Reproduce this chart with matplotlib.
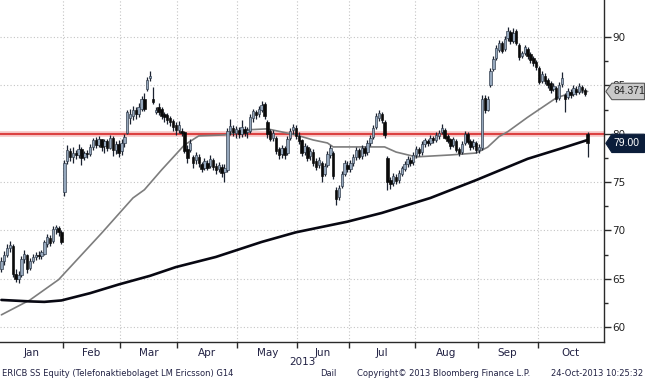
import numpy as np
import matplotlib
matplotlib.use("Agg")
import matplotlib.pyplot as plt
from matplotlib.patches import Polygon
import matplotlib.transforms as mtrans

plt.rcParams['font.family'] = ['DejaVu Sans']

# ---------------- data ----------------
months = ['Jan', 'Feb', 'Mar', 'Apr', 'May', 'Jun', 'Jul', 'Aug', 'Sep', 'Oct']
month_days = [22, 20, 20, 21, 21, 18, 23, 22, 21, 18]

opens = [
    66.0, 66.8, 67.5, 68.2, 68.4, 65.5, 65.0, 65.4, 67.0, 67.4, 66.1, 66.8, 67.2, 67.5, 67.3, 67.6, 68.6, 69.2, 68.9, 70.1, 70.2, 69.8,
    74.0, 77.2, 78.2, 77.6, 78.0, 77.8, 78.4, 77.6, 78.0, 77.9, 78.6, 79.3, 78.8, 79.4, 78.7, 79.2, 78.5, 79.6, 78.3, 78.9,
    78.2, 79.0, 80.1, 81.6, 81.8, 82.4, 82.0, 82.6, 83.6, 84.6, 85.8, 83.6, 82.2, 82.8, 82.6, 82.0, 81.9, 81.6, 81.3, 80.9,
    80.4, 80.3, 80.2, 78.4, 78.3, 77.6, 77.3, 77.6, 76.9, 76.5, 77.0, 76.7, 77.3, 76.7, 76.3, 76.6, 76.0, 76.2, 80.3, 80.6, 80.1,
    80.4, 80.0, 80.5, 80.2, 80.3, 81.6, 82.2, 82.0, 82.5, 83.1, 81.2, 80.3, 79.6, 79.6, 78.4, 77.9, 78.5, 78.0, 79.6, 80.4, 80.6,
    79.8, 79.3, 78.1, 78.6, 77.7, 78.1, 77.2, 76.8, 77.0, 75.8, 76.8, 77.8, 78.0, 74.2, 73.4, 74.6, 75.8, 76.8,
    76.3, 77.0, 77.6, 78.3, 77.7, 78.5, 78.1, 79.0, 79.7, 80.7, 81.6, 82.0, 81.2, 77.5, 75.2, 74.9, 75.5, 75.2, 75.8, 76.3, 76.9, 77.3, 77.1,
    77.8, 78.4, 78.1, 78.9, 79.2, 79.0, 79.6, 79.3, 79.8, 80.2, 80.4, 79.8, 79.4, 78.8, 79.2, 78.4, 78.1, 79.0, 80.0, 79.2, 78.7, 79.0,
    78.3, 78.5, 83.7, 82.5, 85.0, 86.7, 87.8, 88.7, 89.4, 88.8, 89.9, 90.5, 89.6, 90.6, 89.2, 88.0, 88.3, 88.8, 88.2, 87.8, 87.4,
    86.8, 85.4, 86.0, 85.6, 85.2, 84.6, 84.7, 83.7, 85.1, 84.0, 83.8, 84.3, 84.1, 84.6, 84.3, 84.8, 84.5, 80.0,
]
highs = [
    67.2, 67.9, 68.6, 68.9, 68.6, 66.0, 65.8, 67.3, 68.0, 67.6, 67.1, 67.6, 67.8, 67.9, 68.0, 69.0, 69.6, 69.5, 70.5, 70.6, 70.5, 70.0,
    77.3, 78.8, 78.5, 78.6, 78.3, 78.9, 78.6, 78.2, 78.3, 78.9, 79.6, 79.7, 79.8, 79.5, 79.5, 79.4, 79.9, 79.8, 79.2, 79.3,
    79.5, 80.0, 82.4, 82.6, 82.9, 82.8, 83.2, 83.9, 84.2, 85.9, 86.5, 84.8, 82.8, 83.2, 82.8, 82.2, 82.1, 81.8, 81.5, 81.2,
    81.3, 80.6, 80.3, 78.8, 79.4, 77.8, 78.1, 77.9, 77.1, 77.5, 77.3, 77.8, 77.5, 77.0, 77.1, 76.9, 76.9, 80.6, 81.5, 80.9, 80.8,
    80.7, 81.4, 80.8, 80.7, 82.0, 82.6, 82.5, 82.9, 83.4, 83.3, 81.4, 80.5, 80.4, 79.8, 78.6, 78.8, 78.7, 79.8, 80.6, 81.0, 80.9,
    80.2, 79.5, 79.0, 78.8, 78.5, 78.4, 77.5, 77.6, 77.2, 77.0, 78.2, 78.8, 78.2, 74.5, 74.7, 76.1, 77.3, 77.2,
    77.3, 77.9, 78.6, 78.5, 78.8, 78.7, 79.3, 79.9, 80.9, 82.1, 82.4, 82.2, 81.4, 77.7, 75.5, 75.9, 75.8, 76.2, 76.7, 77.2, 77.7, 77.6, 78.1,
    78.7, 78.6, 79.2, 79.6, 79.5, 79.9, 79.8, 80.2, 80.4, 81.0, 80.6, 80.0, 79.6, 79.7, 79.4, 78.6, 79.2, 80.3, 80.2, 79.4, 79.4, 79.2,
    78.9, 84.0, 84.0, 83.9, 86.8, 88.0, 89.2, 89.7, 89.6, 90.1, 91.0, 90.7, 90.9, 90.8, 89.4, 88.6, 89.2, 89.0, 88.4, 88.0, 87.6,
    87.0, 86.5, 86.3, 85.8, 85.4, 85.2, 84.9, 85.3, 86.4, 84.2, 84.7, 84.6, 85.0, 84.9, 85.2, 85.0, 84.7, 80.2,
]
lows = [
    65.7, 66.4, 67.2, 67.8, 65.2, 64.7, 64.6, 65.2, 66.6, 65.6, 65.9, 66.6, 66.9, 67.0, 67.0, 67.5, 68.3, 68.4, 68.7, 69.6, 69.4, 68.6,
    73.6, 76.9, 77.2, 77.0, 77.4, 77.5, 76.8, 77.3, 77.5, 77.7, 78.3, 78.5, 78.6, 78.2, 78.0, 78.2, 78.4, 77.7, 77.9, 77.6,
    77.8, 78.6, 80.0, 81.0, 81.4, 81.5, 81.7, 82.3, 82.3, 84.4, 85.4, 83.1, 82.0, 81.9, 81.5, 81.2, 81.0, 80.8, 80.3, 79.9,
    80.1, 79.8, 78.0, 77.0, 78.1, 76.5, 76.9, 76.6, 76.0, 76.2, 76.2, 76.4, 76.2, 75.8, 76.0, 75.5, 75.0, 76.0, 79.9, 79.8, 79.6,
    79.6, 79.7, 79.8, 79.6, 80.1, 81.2, 81.5, 81.7, 82.2, 81.5, 79.6, 79.2, 79.2, 77.9, 77.4, 77.5, 77.4, 77.8, 79.3, 80.0, 79.5,
    78.9, 77.7, 77.8, 77.2, 77.3, 76.7, 76.2, 76.5, 75.0, 75.6, 76.6, 77.5, 75.3, 72.6, 73.1, 74.4, 75.6, 76.0,
    76.0, 76.7, 77.3, 77.4, 77.4, 77.7, 77.8, 78.7, 79.5, 80.5, 81.3, 81.1, 79.6, 74.2, 74.3, 74.6, 74.8, 74.9, 75.6, 76.1, 76.6, 76.7, 76.8,
    77.5, 77.7, 77.8, 78.6, 78.7, 78.8, 79.0, 79.1, 79.5, 80.0, 79.4, 79.0, 78.4, 78.6, 78.1, 77.7, 77.9, 78.8, 78.9, 78.3, 78.4, 78.0,
    78.0, 78.3, 82.1, 82.3, 84.8, 86.5, 87.6, 88.4, 88.3, 88.6, 89.6, 89.3, 89.4, 89.2, 87.6, 87.8, 88.1, 87.7, 87.3, 87.0, 86.6,
    85.1, 85.2, 85.1, 84.7, 84.2, 84.4, 83.3, 83.5, 84.8, 82.2, 83.6, 83.7, 83.9, 84.0, 84.1, 84.2, 83.9, 77.6,
]
closes = [
    66.8, 67.5, 68.2, 68.5, 65.5, 65.0, 65.4, 67.0, 67.6, 66.0, 66.8, 67.2, 67.5, 67.3, 67.8, 68.8, 69.3, 68.7, 70.1, 70.3, 69.8, 68.8,
    77.0, 78.3, 77.6, 78.0, 77.8, 78.4, 77.5, 78.0, 77.9, 78.6, 79.3, 78.8, 79.5, 78.6, 79.2, 78.5, 79.6, 78.3, 78.9, 78.0,
    79.0, 79.7, 82.2, 82.0, 82.5, 82.0, 82.8, 83.6, 82.6, 85.6, 86.0, 83.3, 82.5, 82.2, 81.8, 81.7, 81.4, 81.2, 80.7, 80.4,
    80.9, 80.1, 78.2, 77.5, 79.0, 77.0, 77.8, 77.0, 76.3, 77.2, 76.5, 77.4, 76.6, 76.2, 76.8, 75.9, 76.4, 80.3, 80.8, 80.2, 80.5,
    80.0, 80.7, 80.1, 80.4, 81.7, 82.3, 81.9, 82.6, 83.0, 81.8, 80.0, 79.5, 80.1, 78.2, 77.8, 78.5, 77.8, 79.5, 80.3, 80.7, 79.8,
    79.2, 78.0, 78.7, 77.5, 78.2, 77.0, 76.6, 77.3, 75.6, 76.7, 77.9, 78.5, 75.6, 73.2, 74.4, 75.8, 77.0, 76.3,
    77.0, 77.6, 78.3, 77.6, 78.5, 78.0, 79.0, 79.6, 80.6, 81.8, 82.1, 81.4, 79.9, 75.0, 74.8, 75.6, 75.1, 75.9, 76.4, 76.9, 77.4, 77.0, 77.8,
    78.4, 78.0, 78.9, 79.3, 79.0, 79.6, 79.3, 79.9, 80.1, 80.6, 79.6, 79.2, 78.7, 79.4, 78.3, 78.0, 78.9, 80.0, 79.1, 78.6, 79.1, 78.3,
    78.6, 83.6, 82.4, 83.6, 86.5, 87.7, 88.9, 89.4, 88.6, 89.8, 90.6, 89.6, 90.4, 89.4, 87.9, 88.3, 89.0, 88.0, 87.6, 87.3, 86.9,
    85.3, 86.2, 85.4, 85.0, 84.5, 84.9, 83.6, 85.0, 85.8, 83.6, 84.4, 84.0, 84.7, 84.3, 84.9, 84.5, 84.1, 79.0,
]

# moving averages (trading-day index, value)
ma50_idx = [0, 10, 20, 35, 46, 50, 56, 64, 69, 78, 86, 93, 103, 109, 114, 116, 126, 134, 138, 145, 157, 166, 170, 174, 177, 184, 194, 200, 205]
ma50_val = [61.26, 62.8, 64.9, 69.7, 73.35, 74.2, 76.25, 78.83, 79.77, 79.87, 80.4, 80.5, 79.87, 79.35, 79.04, 78.63, 78.63, 78.63, 78.1,
            77.6, 77.8, 78.0, 78.6, 79.7, 80.2, 81.7, 83.7, 84.3, 84.37]
ma200_idx = [0, 10, 15, 21, 31, 41, 52, 61, 75, 91, 103, 121, 133, 150, 166, 184, 196, 205]
ma200_val = [62.8, 62.65, 62.6, 62.75, 63.5, 64.4, 65.3, 66.2, 67.25, 68.8, 69.8, 70.9, 71.8, 73.35, 75.2, 77.4, 78.5, 79.35]

ref_level = 80.0
last_price = 79.00
ma50_last = 84.371

y_ticks = [60, 65, 70, 75, 80, 85, 90]

footer_left = "ERICB SS Equity (Telefonaktiebolaget LM Ericsson) G14"
footer_mid = "Dail"
footer_copy = "Copyright\u00a9 2013 Bloomberg Finance L.P."
footer_right = "24-Oct-2013 10:25:32"
year_label = "2013"

# ---------------- figure ----------------
W, H = 645, 380
fig = plt.figure(figsize=(W / 100, H / 100), dpi=100)
ax = fig.add_axes([0, 38 / H, 604 / W, 342 / H])

o = np.array(opens); h = np.array(highs); l = np.array(lows); c = np.array(closes)
x = np.arange(len(c))

bounds = np.cumsum(month_days)[:-1] - 0.5
xmin, xmax = -0.49, 210.7
ax.set_xlim(xmin, xmax)
ax.set_ylim(58.45, 93.83)

# grid
grid_kw = dict(color='#c4c4c4', lw=0.8, ls=(0, (1, 2)), zorder=0)
for yv in y_ticks:
    ax.axhline(yv, **grid_kw)
for b in bounds:
    ax.axvline(b, **grid_kw)

# reference line
ax.axhline(ref_level, color='#f5c4c4', lw=4, zorder=1)
ax.axhline(ref_level, color='#d82828', lw=1.2, zorder=1.1)

# moving averages
ax.plot(ma50_idx, ma50_val, color='#7d7d7d', lw=1.2, zorder=2, solid_capstyle='round')
ax.plot(ma200_idx, ma200_val, color='#080812', lw=1.9, zorder=2, solid_capstyle='round')

# candles
up = c >= o
ax.vlines(x, l, h, color='#1b2230', lw=0.9, zorder=3)
hu = np.maximum(np.abs(c - o), 0.15)
ax.bar(x[up], hu[up], bottom=o[up], width=0.85, color='#95a7bc', edgecolor='#2a3646',
       linewidth=0.45, zorder=4)
ax.bar(x[~up], hu[~up], bottom=c[~up], width=0.85, color='#0a0a0a', edgecolor='#0a0a0a',
       linewidth=0.45, zorder=4)

# spines / axes
for s in ['left', 'top']:
    ax.spines[s].set_visible(False)
ax.spines['bottom'].set_color('#2a2a2a')
ax.spines['right'].set_color('#2a2a2a')
ax.spines['bottom'].set_linewidth(1.0)
ax.spines['right'].set_linewidth(1.0)

ax.yaxis.tick_right()
ax.set_yticks(y_ticks)
ax.set_yticklabels([str(v) for v in y_ticks])
ax.set_yticks([v + 2.5 for v in y_ticks[:-1]], minor=True)
ax.tick_params(axis='y', which='major', length=5, width=1, color='#2a2a2a', pad=1,
               labelsize=7.5, labelcolor='#222222')
ax.tick_params(axis='y', which='minor', length=3, width=1, color='#2a2a2a')

mids = [(xmin + bounds[0]) / 2] + [(bounds[i] + bounds[i + 1]) / 2 for i in range(len(bounds) - 1)] + [(bounds[-1] + xmax) / 2]
ax.set_xticks(bounds)
ax.set_xticklabels([])
ax.set_xticks(mids, minor=True)
ax.set_xticklabels(months, minor=True)
ax.tick_params(axis='x', which='major', length=4, width=1, color='#2a2a2a')
ax.tick_params(axis='x', which='minor', length=0, pad=4, labelsize=7.5, labelcolor='#222244')

# value labels on the right
tr = mtrans.blended_transform_factory(ax.transAxes, ax.transData)
def value_tag(v, text, fc, ec, tc, half=0.85):
    right = (W - 0.5) / 604
    pts = [(1.003, v), (1.013, v + half), (right, v + half), (right, v - half), (1.013, v - half)]
    poly = Polygon(pts, closed=True, transform=tr, facecolor=fc, edgecolor=ec, lw=0.8,
                   clip_on=False, zorder=10)
    ax.add_patch(poly)
    ax.text(1.015, v, text, transform=tr, ha='left', va='center', fontsize=7.5,
            family='Liberation Sans', color=tc, zorder=11, clip_on=False)

value_tag(ma50_last, f"{ma50_last:.3f}", '#c9c9c9', '#5a5a5a', '#222222')
value_tag(last_price, f"{last_price:.2f}", '#0b1d3a', '#0b1d3a', '#ffffff', half=0.95)

# year and footer
fig.text(302 / W, 1 - 362 / H, year_label, ha='center', va='center', fontsize=7.5, color='#222244')
fy = 1 - 373 / H
fs = 6.0
fig.text(2 / W, fy, footer_left, ha='left', va='center', fontsize=fs, color='#222244')
fig.text(320 / W, fy, footer_mid, ha='left', va='center', fontsize=fs, color='#222244')
fig.text(357 / W, fy, footer_copy, ha='left', va='center', fontsize=fs, color='#222244')
fig.text(643 / W, fy, footer_right, ha='right', va='center', fontsize=fs, color='#222244')

fig.savefig("out.png", dpi=100, facecolor='white')
